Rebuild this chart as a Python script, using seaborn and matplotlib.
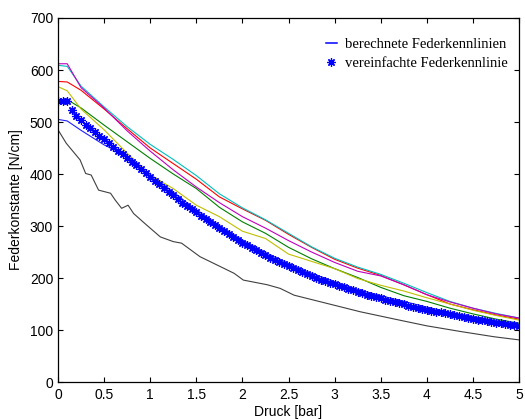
import matplotlib
matplotlib.use("Agg")
import matplotlib.pyplot as plt
import seaborn as sns
import numpy as np
from matplotlib.lines import Line2D

# ---- data ----
druck = [0, 0.1, 0.25, 0.5, 0.75, 1.0, 1.25, 1.5, 1.75, 2.0, 2.25, 2.5,
         2.75, 3.0, 3.25, 3.5, 3.75, 4.0, 4.25, 4.5, 4.75, 5.0]

cyan_k = [609, 607, 569, 529, 491, 457, 428, 397, 362, 335, 312, 286,
          260, 238, 221, 207, 190, 172, 155, 142, 132, 123]
red_k = [578, 577, 561, 525, 487, 450, 420, 390, 356, 333, 311, 284,
         259, 236, 219, 205, 187, 168, 150, 139, 129, 121]
magenta_k = [612, 612, 566, 527, 483, 444, 408, 375, 345, 318, 296, 272,
             250, 230, 213, 204, 187, 168, 154, 142, 131, 123]
green_k = [543, 543, 527, 494, 462, 430, 400, 372, 336, 308, 286, 259,
           237, 218, 201, 182, 166, 155, 142, 131, 121, 113]
yellow_k = [568, 560, 525, 485, 440, 398, 372, 340, 318, 290, 276, 246,
            232, 218, 199, 186, 175, 162, 150, 138, 128, 119]
blue_k = [505, 502, 484, 456, 435, 399, 365, 331, 301, 273, 249, 228,
          209, 193, 178, 166, 155, 144, 134, 126, 118, 111]

grau_druck = [0, 0.09, 0.24, 0.3, 0.36, 0.44, 0.57, 0.62, 0.69, 0.76, 0.82,
              0.96, 1.11, 1.25, 1.34, 1.54, 1.76, 1.91, 2.01, 2.27, 2.41,
              2.56, 2.92, 3.28, 3.65, 4.0, 4.37, 4.73, 5.0]
grau_k = [485, 459, 427, 401, 398, 369, 363, 350, 334, 340, 324, 302, 279,
          270, 267, 241, 222, 209, 196, 187, 180, 167, 151, 135, 121, 108,
          97, 87, 81]

stern_druck = [i * 0.05 for i in range(101)]
stern_k = [540, 540, 540, 524, 512, 503, 495, 488, 481, 474,
           467, 460, 452, 445, 438, 431, 424, 417, 410, 402,
           394, 387, 380, 373, 366, 359, 352, 345, 339, 332,
           326, 320, 314, 308, 302, 296, 290, 285, 279, 274,
           268, 263, 258, 253, 248, 244, 239, 235, 231, 227,
           223, 219, 215, 211, 207, 204, 200, 197, 194, 191,
           188, 185, 182, 179, 176, 173, 171, 168, 166, 163,
           161, 158, 156, 154, 152, 150, 147, 145, 143, 141,
           139, 137, 135, 134, 132, 130, 128, 127, 125, 124,
           122, 120, 119, 117, 116, 114, 113, 112, 110, 109,
           107]

x_ticks = [0, 0.5, 1, 1.5, 2, 2.5, 3, 3.5, 4, 4.5, 5]
y_ticks = [0, 100, 200, 300, 400, 500, 600, 700]
x_ticklabels = ["0", "0.5", "1", "1.5", "2", "2.5", "3", "3.5", "4", "4.5", "5"]
legend_labels = ["berechnete Federkennlinien", "vereinfachte Federkennlinie"]

# ---- plot ----
plt.rcParams['font.family'] = ['Liberation Sans', 'DejaVu Sans']
fig = plt.figure(figsize=(5.25, 4.19), dpi=100)
ax = fig.add_axes([58 / 525, 37 / 419, 461 / 525, 364 / 419])

lw = 0.8
series = [
    (druck, blue_k, '#2020FF'),
    (druck, green_k, '#008000'),
    (druck, red_k, '#FF0000'),
    (druck, cyan_k, '#00BFBF'),
    (druck, magenta_k, '#BF00BF'),
    (druck, yellow_k, '#BFBF00'),
    (grau_druck, grau_k, '#404040'),
]
for xs, ys, c in series:
    sns.lineplot(x=xs, y=ys, color=c, lw=lw, ax=ax, estimator=None,
                 sort=False, legend=False)

sns.lineplot(x=stern_druck, y=stern_k, color='#0000FF', ax=ax,
             estimator=None, sort=False, legend=False, linestyle='none',
             marker=(8, 2, 0), markersize=6, markeredgewidth=0.9,
             markeredgecolor='#0000FF')

ax.set_xlim(0, 5)
ax.set_ylim(0, 700)
ax.set_xticks(x_ticks)
ax.set_xticklabels(x_ticklabels)
ax.set_yticks(y_ticks)
ax.tick_params(direction='in', length=3.6, width=0.8, top=True, right=True,
               labelsize=10, colors='black')
ax.tick_params(axis='x', pad=4.5)
ax.tick_params(axis='y', pad=3.5)
for s in ax.spines.values():
    s.set_linewidth(0.9)
    s.set_color('black')
ax.set_xlabel("Druck [bar]", fontsize=10, labelpad=2)
ax.set_ylabel("Federkonstante [N/cm]", fontsize=10, labelpad=5)

h1 = Line2D([], [], color='#0000FF', lw=1.1)
h2 = Line2D([], [], color='#0000FF', linestyle='none', marker=(8, 2, 0),
            markersize=6, markeredgewidth=0.9)
leg = ax.legend([h1, h2], legend_labels, loc='upper left',
                bbox_to_anchor=(326 / 525, 1 - 38 / 419),
                bbox_transform=fig.transFigure, frameon=False,
                borderpad=0, handlelength=0.75, handletextpad=0.55,
                labelspacing=0.38, borderaxespad=0,
                prop={'family': 'Liberation Serif', 'size': 10.5})

fig.savefig("out.png", dpi=100)
